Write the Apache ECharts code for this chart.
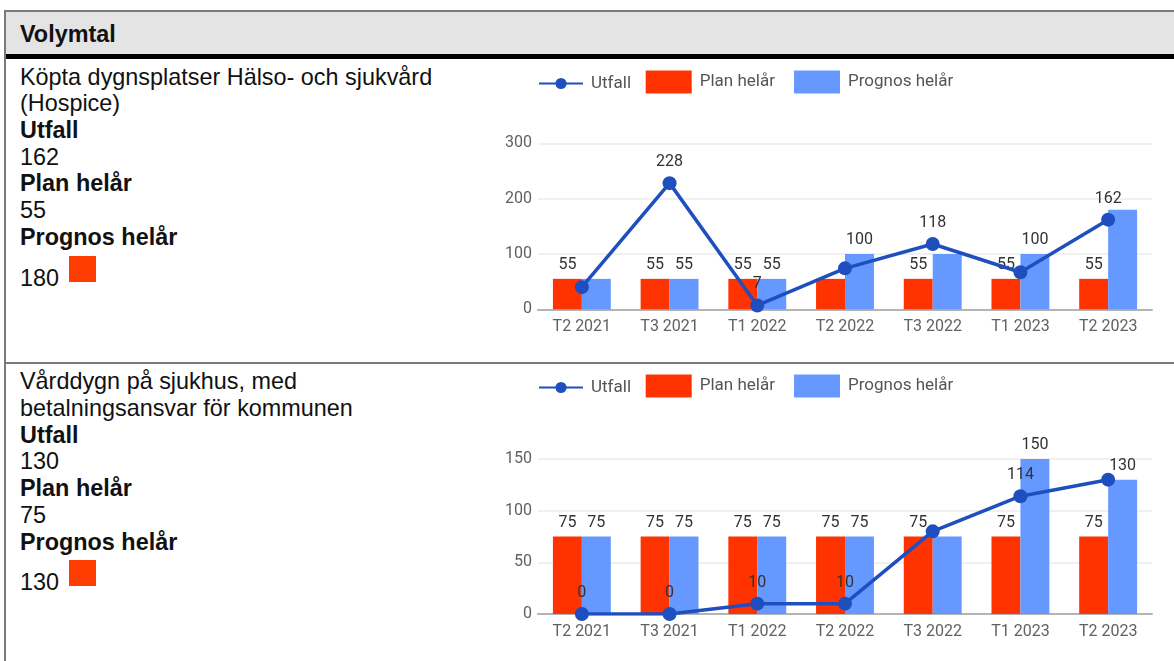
<!DOCTYPE html>
<html>
<head>
<meta charset="utf-8">
<script src="https://cdn.jsdelivr.net/npm/echarts@6/dist/echarts.min.js"></script>
<style>
  html, body { margin: 0; padding: 0; width: 1174px; height: 661px; overflow: hidden; background: #fff; }
  .abs { position: absolute; }
  .txt { font-family: "Liberation Sans", Arial, sans-serif; font-size: 23.4px; color: #111; line-height: 26.7px; white-space: nowrap; }
  .b { font-weight: bold; }
  .sq { position: absolute; width: 27px; height: 26px; background: #ff3d00; }
</style>
</head>
<body>
<script>
// ---- data ----
const categories = ['T2 2021', 'T3 2021', 'T1 2022', 'T2 2022', 'T3 2022', 'T1 2023', 'T2 2023'];
const seriesNames = ['Utfall', 'Plan helår', 'Prognos helår'];

const title1 = ['Köpta dygnsplatser Hälso- och sjukvård', '(Hospice)'];
const utfall1 = [40, 228, 7, 74, 118, 67, 162];
const plan1 = [55, 55, 55, 55, 55, 55, 55];
const prognos1 = [55, 55, 55, 100, 100, 100, 180];
const yTicks1 = [0, 100, 200, 300];
const showUtfall1 = [false, true, true, false, true, false, true];
const showPlan1 = [true, true, true, false, true, true, true];
const showPrognos1 = [false, true, true, true, false, true, false];

const title2 = ['Vårddygn på sjukhus, med', 'betalningsansvar för kommunen'];
const utfall2 = [0, 0, 10, 10, 80, 114, 130];
const plan2 = [75, 75, 75, 75, 75, 75, 75];
const prognos2 = [75, 75, 75, 75, 75, 150, 130];
const yTicks2 = [0, 50, 100, 150];
const showUtfall2 = [true, true, true, true, false, true, false];
const showPlan2 = [true, true, true, true, true, true, true];
const showPrognos2 = [true, true, true, true, false, true, true];

const headerTitle = 'Volymtal';
</script>

<div class="abs" style="left:4px;top:10px;width:1200px;height:700px;border-left:2px solid #7a7a7a;border-top:2px solid #7a7a7a;"></div>
<div class="abs" style="left:6px;top:12px;width:1200px;height:42px;background:#e4e4e4;"></div>
<div class="abs" style="left:6px;top:54px;width:1200px;height:5px;background:#000;"></div>
<div class="abs" style="left:6px;top:362px;width:1200px;height:2px;background:#7a7a7a;"></div>
<div id="hdr" class="abs txt b" style="left:20px;top:20.6px;"></div>

<div id="row1" class="abs txt" style="left:20px;top:63.65px;"></div>
<div id="row2" class="abs txt" style="left:20px;top:368.35px;"></div>

<div id="c1" class="abs" style="left:480px;top:60px;width:694px;height:300px;"></div>
<div id="c2" class="abs" style="left:480px;top:360px;width:694px;height:301px;"></div>

<script>
document.getElementById('hdr').textContent = headerTitle;

function fillRow(id, title, utf, pl, pr) {
  const el = document.getElementById(id);
  const lines = [
    [title[0], false], [title[1], false],
    [seriesNames[0], true], [String(utf[utf.length - 1]), false],
    [seriesNames[1], true], [String(pl[pl.length - 1]), false],
    [seriesNames[2], true]
  ];
  lines.forEach(([t, bold]) => {
    const d = document.createElement('div');
    d.textContent = t;
    if (bold) d.className = 'b';
    el.appendChild(d);
  });
  const last = document.createElement('div');
  last.style.position = 'relative';
  last.style.marginTop = '14.1px';
  last.textContent = String(pr[pr.length - 1]);
  const sq = document.createElement('span');
  sq.className = 'sq';
  sq.style.left = '49px';
  sq.style.top = '-9px';
  last.appendChild(sq);
  el.appendChild(last);
}
fillRow('row1', title1, utfall1, plan1, prognos1);
fillRow('row2', title2, utfall2, plan2, prognos2);

const FONT = 'Roboto';
const RED = '#ff3300', BLUE = '#6699ff', LINE = '#1f4fbf';

function withLabels(vals, shows) {
  return vals.map((v, i) => ({ value: v, label: { show: shows[i] } }));
}

function makeOption(utf, pl, pr, ticks, sU, sP, sR, g) {
  const legendText = { color: '#555', fontSize: 17, fontFamily: FONT, padding: [0, 0, 0, 3] };
  const valLabel = { position: 'top', distance: 6, color: '#333', fontSize: 16, fontFamily: FONT };
  return {
    animation: false,
    textStyle: { fontFamily: FONT },
    legend: [
      { data: [seriesNames[0]], left: 58, top: g.legendY - 7, padding: 0, itemWidth: 44, itemHeight: 14, textStyle: legendText },
      { data: [{ name: seriesNames[1], icon: 'rect' }], left: 165.7, top: g.legendY - 11.5, padding: 0, itemWidth: 46, itemHeight: 23, textStyle: legendText },
      { data: [{ name: seriesNames[2], icon: 'rect' }], left: 314, top: g.legendY - 11.5, padding: 0, itemWidth: 46, itemHeight: 23, textStyle: legendText }
    ],
    grid: { left: 58, right: 22, top: g.top, bottom: g.bottom, containLabel: false },
    xAxis: {
      type: 'category', data: categories, boundaryGap: true,
      axisTick: { show: false },
      axisLine: { lineStyle: { color: '#b4b4b4', width: 2 } },
      axisLabel: { color: '#616161', fontSize: 16, fontFamily: FONT, margin: 10 }
    },
    yAxis: {
      type: 'value', min: ticks[0], max: ticks[ticks.length - 1], interval: ticks[1] - ticks[0],
      axisLine: { show: false }, axisTick: { show: false },
      splitLine: { lineStyle: { color: '#ebebeb', width: 1.5 } },
      axisLabel: { color: '#616161', fontSize: 16, fontFamily: FONT, margin: 6 }
    },
    series: [
      {
        name: seriesNames[1], type: 'bar', data: withLabels(pl, sP),
        itemStyle: { color: RED }, barGap: '0%', barCategoryGap: '34%',
        label: valLabel
      },
      {
        name: seriesNames[2], type: 'bar', data: withLabels(pr, sR),
        itemStyle: { color: BLUE }, barGap: '0%', barCategoryGap: '34%',
        label: valLabel
      },
      {
        name: seriesNames[0], type: 'line', data: withLabels(utf, sU), z: 5,
        symbol: 'circle', symbolSize: 14,
        lineStyle: { color: LINE, width: 3.5 }, itemStyle: { color: LINE },
        label: valLabel
      }
    ]
  };
}

const ch1 = echarts.init(document.getElementById('c1'), null, { renderer: 'canvas' });
ch1.setOption(makeOption(utfall1, plan1, prognos1, yTicks1, showUtfall1, showPlan1, showPrognos1,
  { top: 83.3, bottom: 50.7, legendY: 22 }));
const ch2 = echarts.init(document.getElementById('c2'), null, { renderer: 'canvas' });
ch2.setOption(makeOption(utfall2, plan2, prognos2, yTicks2, showUtfall2, showPlan2, showPrognos2,
  { top: 99, bottom: 47, legendY: 26 }));
</script>
</body>
</html>
